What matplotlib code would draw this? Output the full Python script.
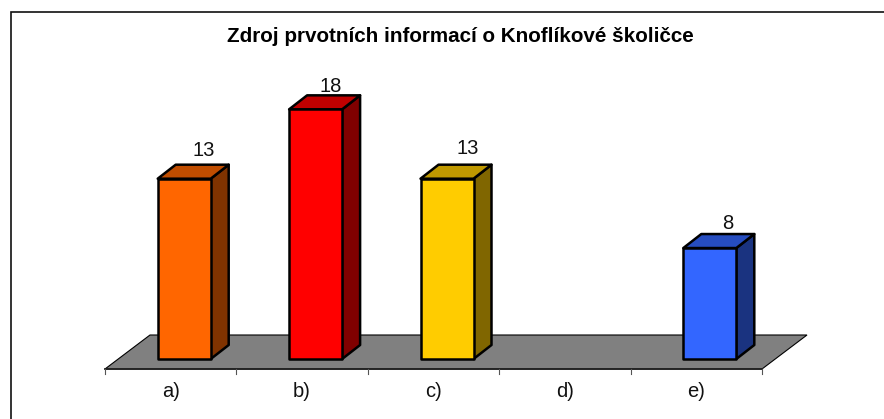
import matplotlib
matplotlib.use('Agg')
import matplotlib.pyplot as plt
from matplotlib.lines import Line2D
from matplotlib.patches import Polygon

plt.rcParams['font.family'] = ['Liberation Sans', 'DejaVu Sans']

categories = ['a)', 'b)', 'c)', 'd)', 'e)']
values = [13, 18, 13, 0, 8]
front_colors = ['#FF6600', '#FF0000', '#FFCC00', '#FFFFFF', '#3366FF']
top_colors = ['#C04D00', '#C00000', '#C09900', '#FFFFFF', '#264DC0']
side_colors = ['#803300', '#800000', '#806600', '#FFFFFF', '#1A3380']
title = 'Zdroj prvotních informací o Knoflíkové školičce'

# value labels were placed by hand in the original, offsets in pixels from bar corner
label_dx = [46, 42, 47.5, 0, 44]
label_dy = [14.5, 8.5, 16, 0, 11]

W, H = 884, 419
fig = plt.figure(figsize=(W / 100, H / 100), dpi=100)

# plot area in pixels, the 3d depth is faked with offsets
left, right, base, top = 105, 762, 369, 40
ax = fig.add_axes([left / W, 1 - base / H, (right - left) / W, (base - top) / H])
ax.set_xlim(0, len(categories))
ax.set_ylim(0, (base - top) / 13.87)
ax.axis('off')

px = len(categories) / (right - left)
py = 1 / 13.87

# outer frame, only top and left show up
fig.add_artist(Line2D([10.5 / W, 10.5 / W, 1], [0, 1 - 12.5 / H, 1 - 12.5 / H],
                      transform=fig.transFigure, color='#111111', linewidth=1.2,
                      solid_joinstyle='miter'))

# floor
n = len(categories)
ax.add_patch(Polygon([(0, 0), (n, 0), (n + 45 * px, 34 * py), (45 * px, 34 * py)],
                     facecolor='#808080', edgecolor='black', linewidth=0.8, clip_on=False))
ax.plot([0, n], [0, 0], color='#222222', lw=1.3, clip_on=False)

# ticks and category labels
for i in range(n + 1):
    ax.plot([i, i], [0, -5 * py], color='#555555', lw=0.8, clip_on=False)
for i, c in enumerate(categories):
    ax.text(i + 0.5, -22 * py, c, ha='center', va='center', fontsize=14.5, color='#111111')

# bars
bw = 53 * px
ox, oy = 13.5 * px, 10 * py
dx, dy = 18 * px, 14 * py
for i, v in enumerate(values):
    if v == 0:
        continue
    x0 = i + 0.5 - bw / 2 + ox
    x1 = x0 + bw
    y0 = oy
    y1 = oy + v
    ax.add_patch(Polygon([(x1, y0), (x1 + dx, y0 + dy), (x1 + dx, y1 + dy), (x1, y1)],
                         facecolor=side_colors[i], edgecolor='black', linewidth=1.8,
                         joinstyle='round', clip_on=False))
    ax.add_patch(Polygon([(x0, y1), (x1, y1), (x1 + dx, y1 + dy), (x0 + dx, y1 + dy)],
                         facecolor=top_colors[i], edgecolor='black', linewidth=1.8,
                         joinstyle='round', clip_on=False))
    ax.add_patch(Polygon([(x0, y0), (x1, y0), (x1, y1), (x0, y1)],
                         facecolor=front_colors[i], edgecolor='black', linewidth=1.8,
                         joinstyle='round', clip_on=False))
    ax.text(x0 + label_dx[i] * px, y1 + dy + label_dy[i] * py, str(v), ha='center', va='center',
            fontsize=14.5, color='#111111', clip_on=False)

fig.text(460.5 / W, 1 - 37 / H, title, ha='center', va='center', fontsize=14.9,
         fontweight='bold', color='black')

fig.savefig('out.png', dpi=100)
